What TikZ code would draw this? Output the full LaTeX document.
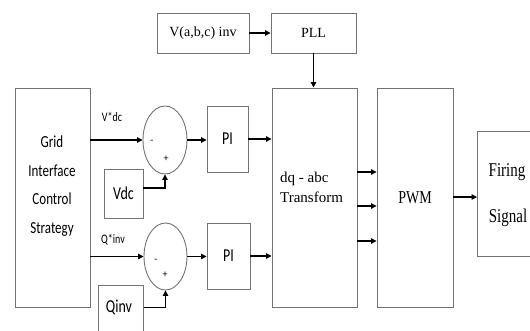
\documentclass[tikz,border=0pt]{standalone}
\usepackage{fontspec}
\setmainfont{Liberation Serif}
\newfontfamily\calib{Carlito}
\newcommand{\tall}[1]{\scalebox{1}[1.3]{#1}}
\usetikzlibrary{arrows.meta,shapes.geometric}
\begin{document}
\begin{tikzpicture}[x=1pt,y=-1pt,
  box/.style={draw=black!55,line width=0.9pt,rectangle,inner sep=0pt},
  sumnode/.style={draw=black!55,line width=0.9pt,ellipse,inner sep=0pt},
  conn/.style={line width=1.1pt,-{Triangle[length=5.5pt,width=5.5pt]}},
  sans/.style={font=\calib\fontsize{14}{16}\selectfont},
  ser/.style={font=\fontsize{14}{16}\selectfont},
  lbl/.style={font=\calib\fontsize{10}{12}\selectfont,inner sep=0pt}]
\useasboundingbox (0,0) rectangle (530,330);
\clip (0,0) rectangle (530,330);
% blocks
\node[box,minimum width=75pt,minimum height=219pt] (grid) at (52.5,197.5) {};
\node[align=center,inner sep=0pt,font=\calib\fontsize{13}{28.5}\selectfont] (gridtxt) at (52,186)
  {\tall{Grid}\\\tall{Interface}\\\tall{Control}\\\tall{Strategy}};
\node[box,sans,minimum width=39pt,minimum height=49pt] (vdc) at (123.5,193.5) {\tall{Vdc}};
\node[box,minimum width=45pt,minimum height=55pt,anchor=north west] (qinv) at (98,285) {};
\node[sans,inner sep=0pt] (qinvtxt) at (119,307) {\tall{Qinv}};
\node[sumnode,minimum width=44pt,minimum height=68pt] (e1) at (165,140) {};
\node[sumnode,minimum width=43pt,minimum height=67pt] (e2) at (165.5,256.5) {};
\node[box,sans,minimum width=41pt,minimum height=66pt] (pi1) at (227.5,139) {\tall{PI}};
\node[box,sans,minimum width=43pt,minimum height=66pt] (pi2) at (228.5,256) {\tall{PI}};
\node[box,ser,minimum width=92pt,minimum height=40pt] (vabc) at (203,33) {V(a,b,c) inv};
\node[box,ser,minimum width=85pt,minimum height=40pt] (pll) at (313.5,33) {PLL};
\node[box,minimum width=85pt,minimum height=219pt] (dq) at (314.5,197.5) {};
\node[align=left,anchor=west,inner sep=0pt,font=\fontsize{15}{20}\selectfont] (dqtxt) at (280,187) {dq - abc\\Transform};
\node[box,ser,minimum width=76pt,minimum height=219pt] (pwm) at (415,197.5) {\tall{PWM}};
\node[box,anchor=north west,minimum width=83pt,minimum height=125pt] (fire) at (477,131) {};
\node[font=\fontsize{15}{18}\selectfont,inner sep=0pt] (firetxt1) at (507,172) {\tall{Firing}};
\node[font=\fontsize{15}{18}\selectfont,inner sep=0pt] (firetxt2) at (508,218) {\tall{Signal}};
% labels
\node[lbl] (vref) at (112,117) {\tall{V*dc}};
\node[lbl] (qref) at (113,240) {\tall{Q*inv}};
\node[lbl] (m1) at (152,142) {-};
\node[lbl] (p1) at (166,159) {+};
\node[lbl] (m2) at (156,261) {-};
\node[lbl] (p2) at (165,275) {+};
% connectors
\draw[conn] (grid.east |- e1) -- (e1.west);
\draw[conn] (grid.east |- e2) -- (e2.west);
\draw[conn] ([yshift=5.5pt]vdc.east) -| (e1.south);
\draw[conn] ([yshift=5.5pt]qinv.east) -| (e2.south);
\draw[conn] (e1.east) -- (pi1.west |- e1);
\draw[conn] (e2.east) -- (pi2.west |- e2);
\draw[conn] (pi1.east) -- (dq.west |- pi1);
\draw[conn] (pi2.east) -- (dq.west |- pi2);
\draw[conn] (vabc.east) -- (pll.west);
\draw[conn] (pll.south) -- (pll.south |- dq.north);
\draw[conn] ([yshift=25.5pt]dq.east) -- ([yshift=25.5pt]pwm.west);
\draw[conn] ([yshift=-8.5pt]dq.east) -- ([yshift=-8.5pt]pwm.west);
\draw[conn] ([yshift=-43.5pt]dq.east) -- ([yshift=-43.5pt]pwm.west);
\draw[conn] ([yshift=0.5pt]pwm.east) -- ([yshift=0.5pt]pwm.east -| fire.west);
\end{tikzpicture}
\end{document}
